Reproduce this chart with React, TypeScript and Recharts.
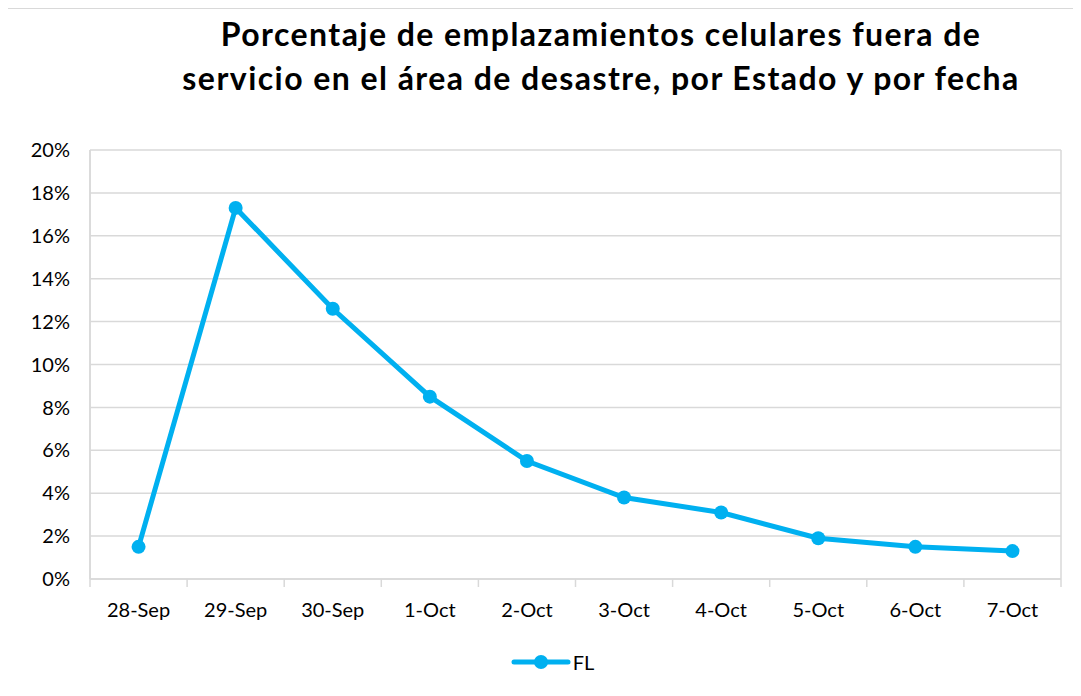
import React from 'react'
import { LineChart, Line, XAxis, YAxis, CartesianGrid, Legend } from 'recharts'

const fechas = ['28-Sep', '29-Sep', '30-Sep', '1-Oct', '2-Oct', '3-Oct', '4-Oct', '5-Oct', '6-Oct', '7-Oct']
const fl = [1.5, 17.3, 12.6, 8.5, 5.5, 3.8, 3.1, 1.9, 1.5, 1.3]
const yTicks = [0, 2, 4, 6, 8, 10, 12, 14, 16, 18, 20]

const data = fechas.map((fecha, i) => ({ fecha, FL: fl[i] }))

const BLUE = '#00B0F0'
const GRID = '#d9d9d9'
const FONT = 'Lato, "Open Sans", sans-serif'

function XTick(props: any) {
    const { x, y, payload, index, visibleTicksCount } = props
    const off = payload.offset || 0
    const isLast = index === visibleTicksCount - 1
    return (
        <g>
            <line x1={x - off} x2={x - off} y1={y} y2={y + 8} stroke={GRID} strokeWidth={1.5} />
            {isLast && <line x1={x + off} x2={x + off} y1={y} y2={y + 8} stroke={GRID} strokeWidth={1.5} />}
            <text x={x} y={y + 38} textAnchor="middle" fill="#000" fontSize={20} fontFamily={FONT}>
                {payload.value}
            </text>
        </g>
    )
}

function LegendFL() {
    return (
        <div style={{ display: 'flex', alignItems: 'center', justifyContent: 'center', fontFamily: FONT, fontSize: 20, paddingLeft: 36 }}>
            <svg width={60} height={16}>
                <line x1={3} x2={57} y1={8} y2={8} stroke={BLUE} strokeWidth={5} strokeLinecap="round" />
                <circle cx={30} cy={8} r={7} fill={BLUE} />
            </svg>
            <span style={{ marginLeft: 2 }}>FL</span>
        </div>
    )
}

export default function App() {
    return (
        <div style={{ position: 'relative', width: 1067, height: 688, border: `1px solid ${GRID}`, marginLeft: -1, background: '#fff' }}>
            <div
                style={{
                    position: 'absolute',
                    top: 3,
                    left: 93,
                    width: 1000,
                    textAlign: 'center',
                    fontFamily: FONT,
                    fontWeight: 700,
                    fontSize: 32,
                    letterSpacing: 1.45,
                    lineHeight: '44px',
                    color: '#000',
                }}
            >
                Porcentaje de emplazamientos celulares fuera de
                <br />
                servicio en el área de desastre, por Estado y por fecha
            </div>
            <LineChart width={1067} height={688} data={data} margin={{ top: 141, right: 14, bottom: 0, left: 0 }}>
                <CartesianGrid
                    stroke={GRID}
                    strokeWidth={1.5}
                    verticalCoordinatesGenerator={({ offset }: any) => [offset.left, offset.left + offset.width]}
                />
                <XAxis
                    dataKey="fecha"
                    scale="band"
                    tick={<XTick />}
                    tickLine={false}
                    tickSize={0}
                    tickMargin={0}
                    axisLine={{ stroke: GRID, strokeWidth: 1.5 }}
                    height={75}
                    interval={0}
                />
                <YAxis
                    domain={[0, 20]}
                    ticks={yTicks}
                    tickFormatter={(v) => `${v}%`}
                    width={82}
                    tickLine={false}
                    tickSize={0}
                    tickMargin={20}
                    axisLine={{ stroke: GRID, strokeWidth: 1.5 }}
                    tick={{ fill: '#000', fontSize: 20, fontFamily: FONT }}
                    interval={0}
                />
                <Legend verticalAlign="bottom" height={43} wrapperStyle={{ bottom: 4 }} content={<LegendFL />} />
                <Line
                    type="linear"
                    dataKey="FL"
                    stroke={BLUE}
                    strokeWidth={5}
                    dot={{ r: 7, fill: BLUE, stroke: BLUE, strokeWidth: 0 }}
                    isAnimationActive={false}
                />
            </LineChart>
        </div>
    )
}
